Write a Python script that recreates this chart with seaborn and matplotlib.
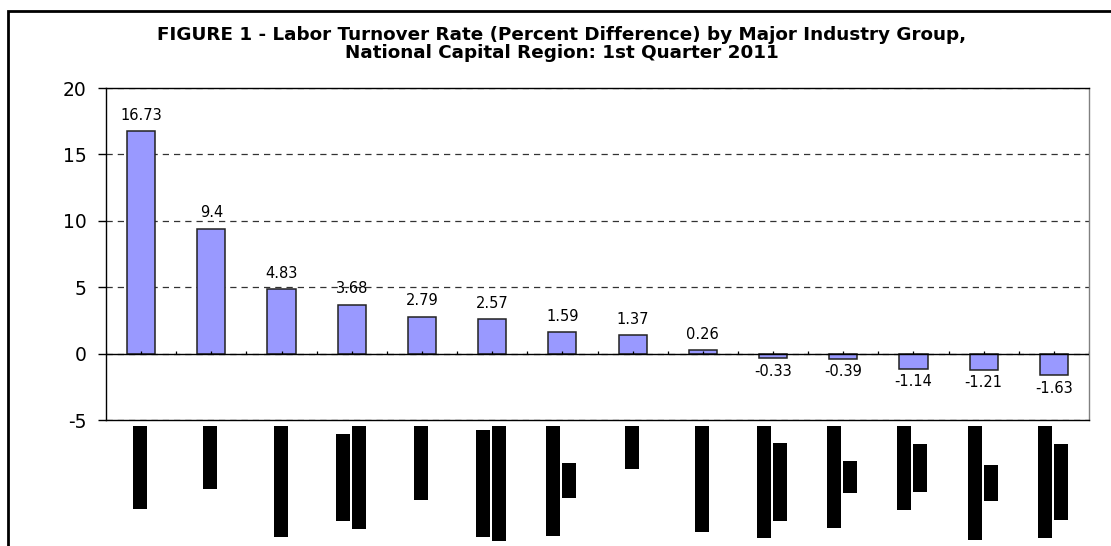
import numpy as np
import pandas as pd
import seaborn as sns
import matplotlib.pyplot as plt
from matplotlib.patches import Rectangle

# industry groups, sorted by percent difference (label lines split as in the chart)
industries = [
    "Manufacturing",
    "Agriculture",
    "Mining & Quarrying",
    "Electricity, Gas\nand Water Supply",
    "Construction",
    "Transport, Storage\nand Communication",
    "Wholesale & Retail\nTrade",
    "Fishing",
    "Financial Services",
    "Real Estate, Rental\nand Business",
    "Health and Social\nWork",
    "Education and\nTraining",
    "Other Community &\nSocial",
    "Private Households\nwith Workers",
]
pct_diff = [16.73, 9.4, 4.83, 3.68, 2.79, 2.57, 1.59, 1.37, 0.26,
            -0.33, -0.39, -1.14, -1.21, -1.63]
value_labels = ["16.73", "9.4", "4.83", "3.68", "2.79", "2.57", "1.59", "1.37",
                "0.26", "-0.33", "-0.39", "-1.14", "-1.21", "-1.63"]
y_ticks = [-5, 0, 5, 10, 15, 20]

title = ("FIGURE 1 - Labor Turnover Rate (Percent Difference) by Major Industry Group,\n"
         "National Capital Region: 1st Quarter 2011")

sns.set_theme(style="white")
plt.rcParams['font.family'] = ['Liberation Sans', 'DejaVu Sans']
plt.rcParams['axes.unicode_minus'] = False
plt.rcParams['text.color'] = 'black'

df = pd.DataFrame({"industry": industries, "pct": pct_diff})

W, H = 1111, 546
fig = plt.figure(figsize=(W / 100, H / 100), dpi=100)
ax = fig.add_axes([106 / W, 1 - 420 / H, 983 / W, 332 / H])

sns.barplot(data=df, x="industry", y="pct", color="#9999FF", saturation=1,
            edgecolor="#222222", linewidth=1.1, width=0.4, ax=ax)

n = len(industries)
ax.set_xlim(-0.5, n - 0.5)
ax.set_ylim(-5, 20)
ax.set_yticks(y_ticks)
ax.set_xlabel("")
ax.set_ylabel("")
ax.tick_params(axis='y', direction='out', length=6, width=1, labelsize=13.5,
               left=True, pad=8, colors='black')
ax.tick_params(axis='x', length=0, labelbottom=False)
for lab in ax.get_yticklabels():
    lab.set_family('DejaVu Sans')

# dashed gridlines
ax.grid(axis='y', linestyle=(0, (5, 4)), color='#333333', linewidth=0.9)
ax.grid(axis='x', visible=False)
ax.set_axisbelow(True)

for side in ['left', 'top', 'bottom']:
    ax.spines[side].set_color('black')
    ax.spines[side].set_linewidth(1)
ax.spines['right'].set_color('#808080')
ax.spines['right'].set_linewidth(1)

# category axis at zero with small tick marks
ax.axhline(0, color='black', linewidth=1, zorder=3)
tick_pos = np.concatenate([np.arange(n), np.arange(n + 1) - 0.5])
ax.vlines(tick_pos, 0, 0.23, color='black', linewidth=0.9, zorder=3)

# value labels (above positive bars, below negative ones)
bars = ax.containers[0]
pos_labels = [s if v >= 0 else "" for s, v in zip(value_labels, pct_diff)]
neg_labels = [s if v < 0 else "" for s, v in zip(value_labels, pct_diff)]
ax.bar_label(bars, labels=pos_labels, padding=6, fontsize=10.5,
             family='DejaVu Sans', color='black')
ax.bar_label(bars, labels=neg_labels, padding=4, fontsize=10.5,
             family='DejaVu Sans', color='black')

# category labels: rendered as solid black blocks
label_texts = []
for k, name in enumerate(industries):
    lines = name.split("\n")
    group = []
    for i, line in enumerate(lines):
        dx = (i - (len(lines) - 1) / 2) * 16
        t = ax.annotate(line, xy=(k, 0), xycoords=('data', 'axes fraction'),
                        xytext=(dx - 1, -7), textcoords='offset pixels',
                        rotation=90, ha='center', va='top', fontsize=9.2,
                        color='black', annotation_clip=False,
                        bbox=dict(boxstyle='square,pad=0.08', fc='black', ec='none'))
        group.append(t)
    label_texts.append(group)

fig.canvas.draw()
renderer = fig.canvas.get_renderer()
for group in label_texts:
    if len(group) < 2:
        continue
    lens = [t.get_window_extent(renderer).height for t in group]
    longest = max(lens)
    for t, L in zip(group, lens):
        if L < longest:
            dx, dy = t.xyann
            t.set_va('center')
            t.xyann = (dx, dy - longest / 2)

fig.text(562 / W, 1 - 44 / H, title, ha='center', va='center',
         multialignment='center', fontsize=13.2, fontweight='bold',
         family='DejaVu Sans', color='black', linespacing=0.95)

# outer chart border
fig.patches.append(Rectangle((8 / W, -0.2), 1.2, 1.2 - 11 / H,
                             transform=fig.transFigure, fill=False,
                             edgecolor='black', linewidth=2))

fig.savefig("out.png", dpi=100)
